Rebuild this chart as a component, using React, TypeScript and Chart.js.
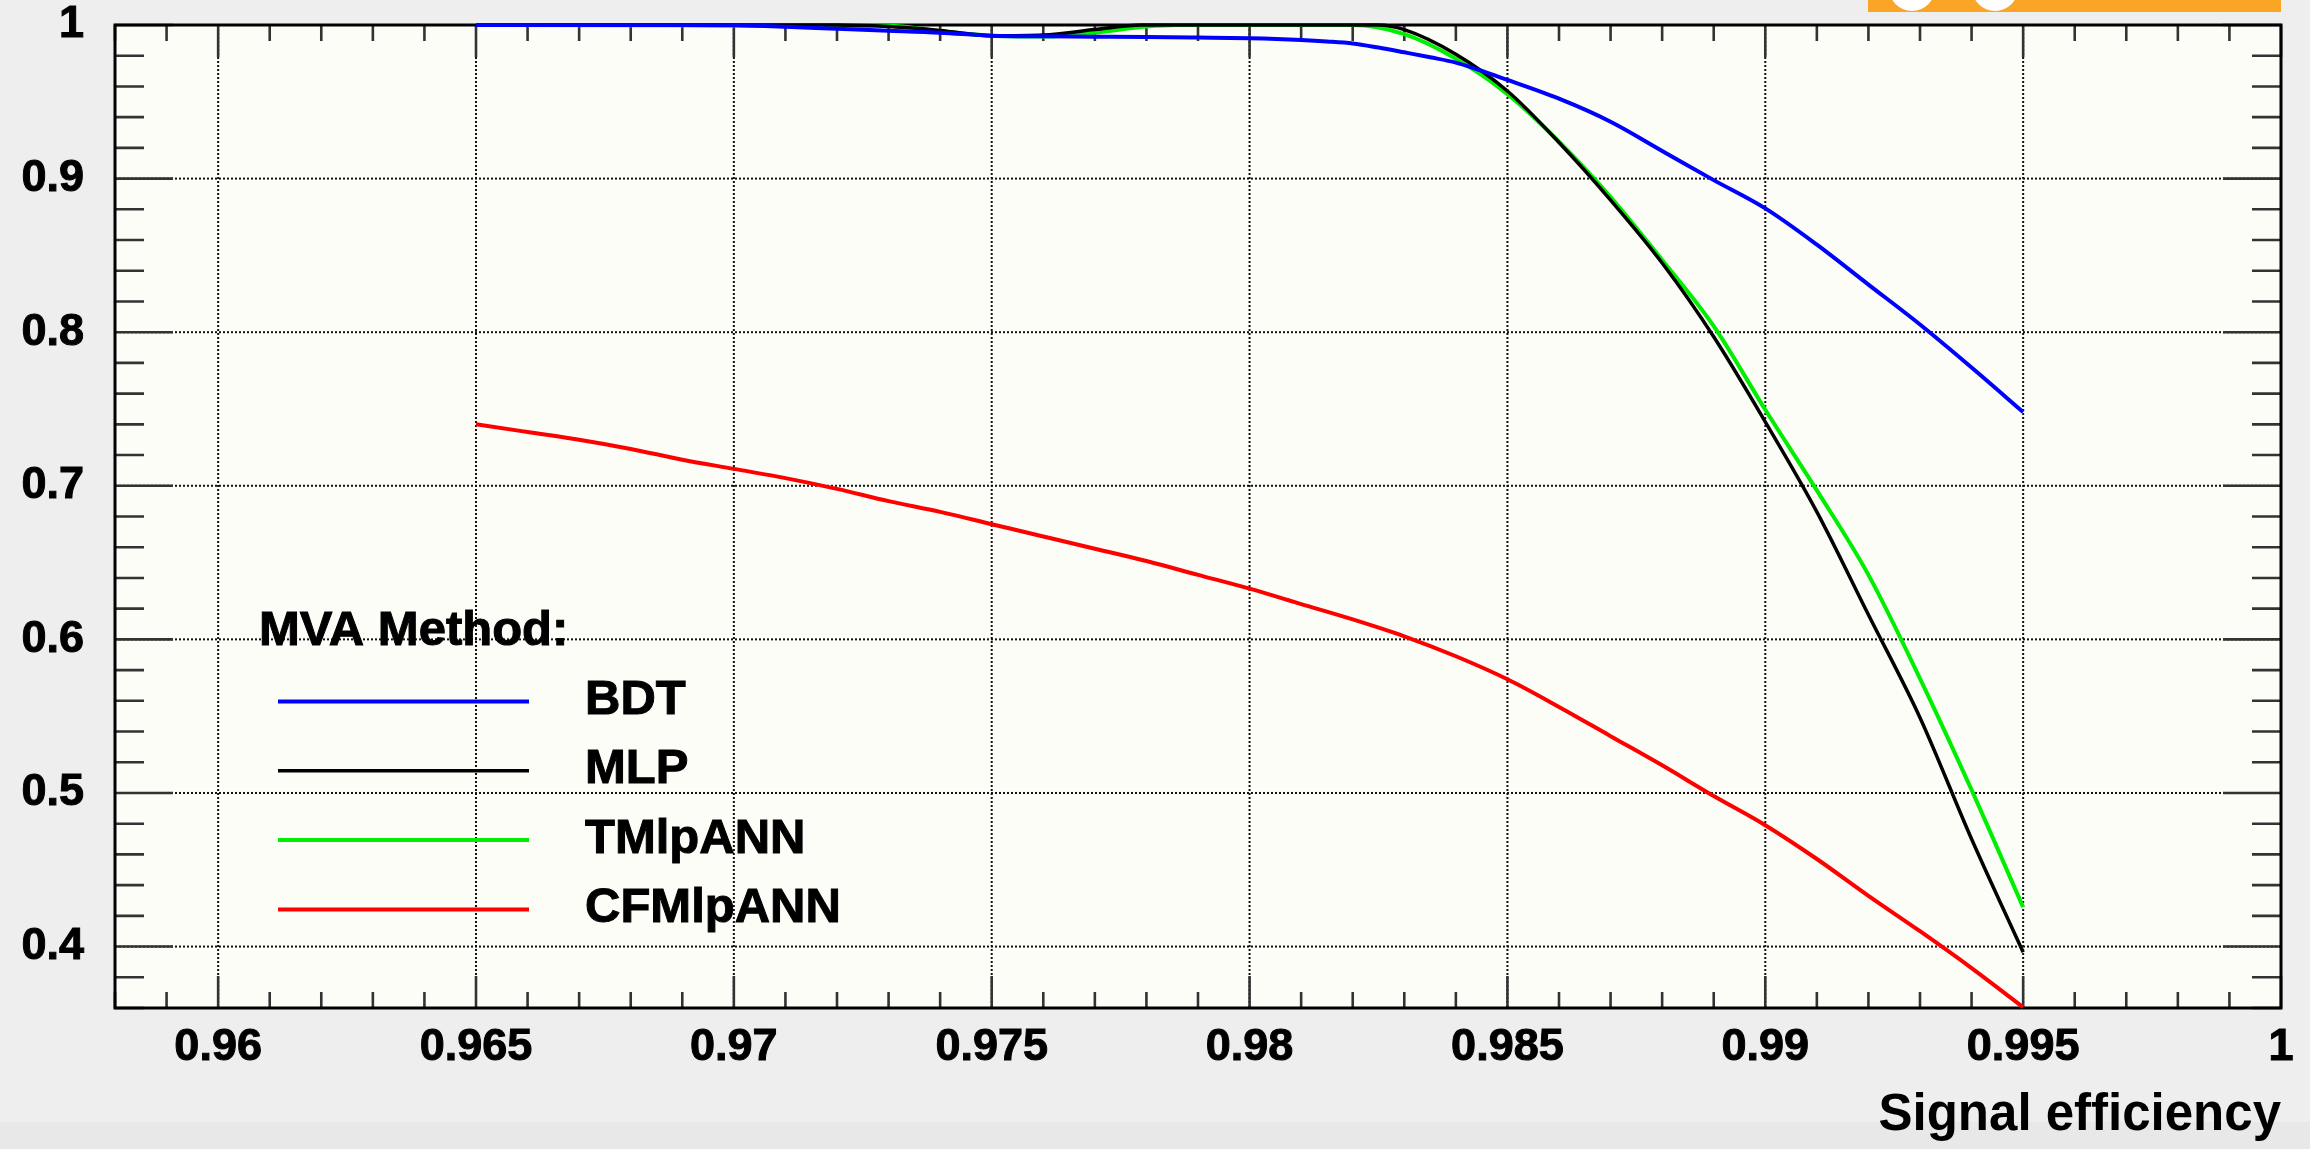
import React, { useEffect, useRef } from "react";
import { Chart, registerables } from "chart.js";

Chart.register(...registerables);

// ---------- data ----------
const SERIES_NAMES = ["BDT", "MLP", "TMlpANN", "CFMlpANN"];
const SERIES_COLORS = ["#0000ff", "#000000", "#00ee00", "#ff0000"];

const BDT_X = [0.965, 0.966, 0.967, 0.968, 0.969, 0.97, 0.971, 0.972, 0.973, 0.974, 0.975, 0.976, 0.977, 0.978, 0.979, 0.98, 0.981, 0.9815, 0.982, 0.9825, 0.983, 0.9835, 0.984, 0.985, 0.986, 0.987, 0.988, 0.989, 0.99, 0.991, 0.992, 0.993, 0.994, 0.995];
const BDT_Y = [1.0, 1.0, 1.0, 1.0, 1.0, 0.9998, 0.9988, 0.9975, 0.9963, 0.995, 0.993, 0.9926, 0.9924, 0.9922, 0.9918, 0.9913, 0.9902, 0.9893, 0.988, 0.9853, 0.9822, 0.979, 0.9755, 0.9642, 0.952, 0.937, 0.918, 0.899, 0.8806, 0.857, 0.831, 0.805, 0.777, 0.748];

const MLP_X = [0.965, 0.972, 0.973, 0.974, 0.975, 0.976, 0.977, 0.9779, 0.9825, 0.983, 0.984, 0.985, 0.986, 0.987, 0.988, 0.989, 0.99, 0.991, 0.992, 0.993, 0.994, 0.995];
const MLP_Y = [1.0, 1.0, 0.999, 0.9965, 0.993, 0.9935, 0.997, 1.0, 1.0, 0.997, 0.981, 0.957, 0.9235, 0.886, 0.845, 0.797, 0.7416, 0.683, 0.616, 0.549, 0.47, 0.3963];

const TMLP_X = [0.965, 0.973, 0.974, 0.975, 0.976, 0.977, 0.978, 0.9786, 0.982, 0.983, 0.984, 0.985, 0.986, 0.987, 0.988, 0.989, 0.99, 0.991, 0.992, 0.993, 0.994, 0.995];
const TMLP_Y = [1.0, 0.9995, 0.996, 0.993, 0.9925, 0.995, 0.999, 1.0, 1.0, 0.994, 0.978, 0.955, 0.924, 0.888, 0.847, 0.804, 0.7495, 0.697, 0.642, 0.5745, 0.502, 0.4256];

const CF_X = [0.965, 0.966, 0.967, 0.968, 0.969, 0.97, 0.971, 0.972, 0.973, 0.974, 0.975, 0.976, 0.977, 0.978, 0.979, 0.98, 0.981, 0.982, 0.983, 0.984, 0.985, 0.986, 0.987, 0.988, 0.989, 0.99, 0.991, 0.992, 0.993, 0.994, 0.995];
const CF_Y = [0.74, 0.735, 0.73, 0.724, 0.717, 0.711, 0.705, 0.698, 0.69, 0.683, 0.675, 0.667, 0.659, 0.651, 0.642, 0.633, 0.623, 0.613, 0.602, 0.589, 0.574, 0.556, 0.537, 0.518, 0.498, 0.479, 0.457, 0.433, 0.41, 0.386, 0.3605];

const X_TICKS = [0.96, 0.965, 0.97, 0.975, 0.98, 0.985, 0.99, 0.995, 1];
const X_TICK_LABELS = ["0.96", "0.965", "0.97", "0.975", "0.98", "0.985", "0.99", "0.995", "1"];
const Y_TICKS = [0.4, 0.5, 0.6, 0.7, 0.8, 0.9, 1];
const Y_TICK_LABELS = ["0.4", "0.5", "0.6", "0.7", "0.8", "0.9", "1"];
const X_RANGE = [0.958, 1.0];
const Y_RANGE = [0.36, 1.0];
const X_TITLE = "Signal efficiency";
const LEGEND_HEADER = "MVA Method:";

const FONT = '"Liberation Sans", Arial, Helvetica, sans-serif';

const SERIES_X = [BDT_X, MLP_X, TMLP_X, CF_X];
const SERIES_Y = [BDT_Y, MLP_Y, TMLP_Y, CF_Y];
const SERIES_WIDTH = [4, 3.5, 4, 4];

function boldText(ctx: any, text: string, x: number, y: number) {
  ctx.fillText(text, x, y);
  ctx.strokeText(text, x, y);
}

const rootStyle = {
  id: "rootStyle",
  beforeDraw(chart: any) {
    const { ctx, width, height, chartArea: a } = chart;
    ctx.save();
    ctx.fillStyle = "#eeeeee";
    ctx.fillRect(0, 0, width, height);
    ctx.fillStyle = "#e8e8e8";
    ctx.fillRect(0, height - 27, width, 27);
    // orange logo strip (top right)
    ctx.fillStyle = "#fba526";
    ctx.fillRect(1868, 0, 413, 12);
    ctx.fillStyle = "#ffffff";
    ctx.beginPath();
    ctx.arc(1912, -12, 23, 0, Math.PI * 2);
    ctx.fill();
    ctx.beginPath();
    ctx.arc(1995, -12, 23, 0, Math.PI * 2);
    ctx.fill();
    // plot area
    ctx.fillStyle = "#fdfdf8";
    ctx.fillRect(a.left, a.top, a.right - a.left, a.bottom - a.top);
    ctx.restore();
  },
  beforeDatasetsDraw(chart: any) {
    const { ctx, chartArea: a } = chart;
    const xs = chart.scales.x;
    const ys = chart.scales.y;
    ctx.save();
    // dotted grid
    ctx.strokeStyle = "#111111";
    ctx.lineWidth = 2;
    ctx.setLineDash([2, 2]);
    for (const v of X_TICKS) {
      const px = xs.getPixelForValue(v);
      if (px <= a.left + 2 || px >= a.right - 2) continue;
      ctx.beginPath();
      ctx.moveTo(px, a.top);
      ctx.lineTo(px, a.bottom);
      ctx.stroke();
    }
    for (const v of Y_TICKS) {
      const py = ys.getPixelForValue(v);
      if (py <= a.top + 2 || py >= a.bottom - 2) continue;
      ctx.beginPath();
      ctx.moveTo(a.left, py);
      ctx.lineTo(a.right, py);
      ctx.stroke();
    }
    ctx.setLineDash([]);
    // tick marks
    ctx.strokeStyle = "#333333";
    ctx.lineWidth = 2.6;
    for (let k = 958; k <= 1000; k++) {
      const px = xs.getPixelForValue(k / 1000);
      const len = k % 5 === 0 ? 32 : 16;
      ctx.beginPath();
      ctx.moveTo(px, a.bottom);
      ctx.lineTo(px, a.bottom - len);
      ctx.moveTo(px, a.top);
      ctx.lineTo(px, a.top + len);
      ctx.stroke();
    }
    for (let k = 18; k <= 50; k++) {
      const py = ys.getPixelForValue(k / 50);
      const len = k % 5 === 0 ? 58 : 29;
      ctx.beginPath();
      ctx.moveTo(a.left, py);
      ctx.lineTo(a.left + len, py);
      ctx.moveTo(a.right, py);
      ctx.lineTo(a.right - len, py);
      ctx.stroke();
    }
    // frame
    ctx.strokeStyle = "#000000";
    ctx.lineWidth = 3;
    ctx.strokeRect(a.left, a.top, a.right - a.left, a.bottom - a.top);
    ctx.restore();
  },
  afterDatasetsDraw(chart: any) {
    const { ctx } = chart;
    ctx.save();
    ctx.fillStyle = "#000000";
    ctx.strokeStyle = "#000000";
    ctx.textAlign = "left";
    ctx.textBaseline = "middle";
    ctx.font = `bold 49px ${FONT}`;
    ctx.lineWidth = 1;
    boldText(ctx, LEGEND_HEADER, 259, 631);
    chart.data.datasets.forEach((ds: any, i: number) => {
      const y = 701.5 + i * 69.3;
      ctx.strokeStyle = ds.borderColor;
      ctx.lineWidth = ds.borderWidth;
      ctx.beginPath();
      ctx.moveTo(278, y);
      ctx.lineTo(529, y);
      ctx.stroke();
      ctx.fillStyle = "#000000";
      ctx.strokeStyle = "#000000";
      ctx.lineWidth = 1;
      boldText(ctx, ds.label, 585, y - 1);
    });
    ctx.restore();
  },
};

export default function App() {
  const ref = useRef<HTMLCanvasElement | null>(null);

  useEffect(() => {
    document.body.style.margin = "0";
    document.body.style.overflow = "hidden";
    const canvas = ref.current;
    if (!canvas) return;

    const datasets = SERIES_NAMES.map((name, i) => ({
      label: name,
      data: SERIES_X[i].map((x, j) => ({ x, y: SERIES_Y[i][j] })),
      borderColor: SERIES_COLORS[i],
      backgroundColor: SERIES_COLORS[i],
      borderWidth: SERIES_WIDTH[i],
      pointRadius: 0,
      fill: false,
      cubicInterpolationMode: "monotone" as const,
      clip: false as any,
    }));

    const chart = new Chart(canvas, {
      type: "line",
      data: { datasets },
      plugins: [rootStyle],
      options: {
        animation: false,
        responsive: false,
        maintainAspectRatio: false,
        devicePixelRatio: 1,
        events: [],
        layout: { padding: { top: 25, right: 29, left: 0, bottom: 0 } },
        plugins: {
          legend: { display: false },
          tooltip: { enabled: false },
          title: { display: false },
        },
        scales: {
          x: {
            type: "linear",
            min: X_RANGE[0],
            max: X_RANGE[1],
            afterBuildTicks: (s: any) => {
              s.ticks = X_TICKS.map((value) => ({ value }));
            },
            afterFit: (s: any) => {
              s.height = 141;
              s.paddingLeft = 0;
              s.paddingRight = 0;
            },
            grid: { display: false, drawTicks: false },
            border: { display: false },
            ticks: {
              autoSkip: false,
              maxRotation: 0,
              minRotation: 0,
              padding: 13,
              color: "#000000",
              textStrokeColor: "#000000",
              textStrokeWidth: 1,
              font: { family: FONT, size: 45, weight: "bold" },
              callback: (v: any) => {
                const idx = X_TICKS.findIndex((t) => Math.abs(t - Number(v)) < 1e-9);
                return idx >= 0 ? X_TICK_LABELS[idx] : "";
              },
            },
            title: {
              display: true,
              text: X_TITLE,
              align: "end",
              color: "#000000",
              font: { family: FONT, size: 51, weight: "bold" },
              padding: { top: 0, bottom: 2 },
            },
          },
          y: {
            type: "linear",
            min: Y_RANGE[0],
            max: Y_RANGE[1],
            afterBuildTicks: (s: any) => {
              s.ticks = Y_TICKS.map((value) => ({ value }));
            },
            afterFit: (s: any) => {
              s.width = 115;
              s.paddingTop = 0;
              s.paddingBottom = 0;
            },
            grid: { display: false, drawTicks: false },
            border: { display: false },
            ticks: {
              autoSkip: false,
              padding: 31,
              color: "#000000",
              textStrokeColor: "#000000",
              textStrokeWidth: 1,
              font: { family: FONT, size: 45, weight: "bold" },
              callback: (v: any) => {
                const idx = Y_TICKS.findIndex((t) => Math.abs(t - Number(v)) < 1e-9);
                return idx >= 0 ? Y_TICK_LABELS[idx] : "";
              },
            },
          },
        },
      } as any,
    });

    return () => chart.destroy();
  }, []);

  return (
    <div style={{ position: "absolute", left: 0, top: 0, width: 2310, height: 1149 }}>
      <canvas ref={ref} width={2310} height={1149} style={{ display: "block", width: 2310, height: 1149 }} />
    </div>
  );
}
